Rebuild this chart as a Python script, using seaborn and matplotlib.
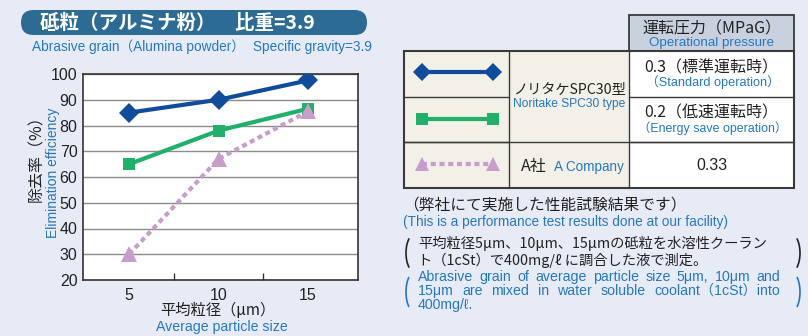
import matplotlib
matplotlib.use("Agg")
import matplotlib.pyplot as plt
import seaborn as sns
import pandas as pd
from matplotlib.patches import FancyBboxPatch, Rectangle, Arc
from matplotlib.lines import Line2D

# ---- data -------------------------------------------------------------
particle_sizes = [5, 10, 15]                 # average particle size (µm)
noritake_standard = [85, 90, 97.5]           # SPC30, 0.3 MPaG
noritake_energy_save = [65, 78, 86.5]        # SPC30, 0.2 MPaG
company_a = [30, 67, 85.5]                   # A社, 0.33 MPaG
y_ticks = [20, 30, 40, 50, 60, 70, 80, 90, 100]
x_ticks = [5, 10, 15]

# ---- styling ----------------------------------------------------------
BG = "#E7EBF6"
NAVY = "#0F4C9C"
GREEN = "#1FB06A"
LILAC = "#C89CCB"
TEXT_BLUE = "#2478C0"
BANNER = "#2C6C94"
INK = "#222222"

CJK = ["Noto Sans CJK JP", "DejaVu Sans"]
SANS = ["Liberation Sans", "Noto Sans CJK JP", "DejaVu Sans"]

sns.set_theme(style="white")
plt.rcParams["font.family"] = CJK

W, H = 808, 336
fig = plt.figure(figsize=(W / 100, H / 100), dpi=100, facecolor=BG)
renderer = fig.canvas.get_renderer()

# pixel-space overlay for the banner, table and notes
ov = fig.add_axes([0, 0, 1, 1])
ov.set_xlim(0, W)
ov.set_ylim(H, 0)
ov.axis("off")

ax = fig.add_axes([83 / W, 1 - 280 / H, 275 / W, 206 / H])
ax.set_facecolor("white")

df = pd.DataFrame({
    "size": particle_sizes * 3,
    "eff": noritake_standard + noritake_energy_save + company_a,
    "series": ["std"] * 3 + ["eco"] * 3 + ["a"] * 3,
})
series_styles = {
    "std": dict(color=NAVY, marker="D", markersize=10, linestyle="-"),
    "eco": dict(color=GREEN, marker="s", markersize=9, linestyle="-"),
    "a": dict(color=LILAC, marker="^", markersize=11, linestyle=(0, (1.2, 0.9))),
}
for key, st in series_styles.items():
    sns.lineplot(data=df[df["series"] == key], x="size", y="eff", ax=ax,
                 legend=False, errorbar=None, linewidth=3,
                 markeredgewidth=0, zorder=3, **st)

ax.set_xlim(2.42, 17.8)
ax.set_ylim(20, 100)
ax.set_yticks(y_ticks, labels=[str(v) for v in y_ticks],
              fontfamily=SANS, fontsize=11.5, color=INK)
ax.set_xticks(x_ticks, labels=[str(v) for v in x_ticks],
              fontfamily=SANS, fontsize=11.5, color=INK)
ax.set_xticks([7.5, 12.5], minor=True)
ax.tick_params(which="major", length=0)
ax.tick_params(axis="y", pad=4)
ax.tick_params(axis="x", pad=6)
ax.tick_params(axis="x", which="minor", direction="in", length=5,
               width=1, color="#333333", bottom=True)
ax.grid(axis="y", color="#8c8c8c", linewidth=1)
ax.set_axisbelow(True)
ax.set_xlabel("")
ax.set_ylabel("")
for sp in ax.spines.values():
    sp.set_color("#333333")
    sp.set_linewidth(1.2)


def caption(x, y, s, size=10, max_width=None, ha="left", va="center",
            rotation=0):
    """Blue English caption, shrunk if it would exceed max_width pixels."""
    t = ov.text(x, y, s, ha=ha, va=va, rotation=rotation, fontsize=size,
                color=TEXT_BLUE, family=SANS)
    if max_width:
        bb = t.get_window_extent(renderer)
        span = bb.height if rotation else bb.width
        if span > max_width:
            t.set_fontsize(size * max_width / span)
    return t


# axis titles
ov.text(37, 107, "除去率（%）", rotation=90, ha="center", va="top",
        fontsize=11.5, color=INK, family=CJK)
caption(53, 108, "Elimination efficiency", 10, 132, ha="center", va="top",
        rotation=90)
ov.text(218, 311, "平均粒径（μm）", ha="center", va="center",
        fontsize=11, color=INK, family=CJK)
caption(222, 327, "Average particle size", 10.2, 135, ha="center")

# title banner
ov.add_patch(FancyBboxPatch((21, 10), 346, 25,
                            boxstyle="round,pad=0,rounding_size=12.5",
                            facecolor=BANNER, edgecolor="none"))
ov.text(40, 23, "砥粒（アルミナ粉）　比重=3.9", ha="left", va="center",
        fontsize=14, color="white", family=CJK, fontweight="bold")
sub = caption(32, 47, "Abrasive grain（Alumina powder）", 9.8)
sub_end = sub.get_window_extent(renderer).x1
caption(max(238, sub_end + 8), 47, "Specific gravity=3.9", 9.8)

# ---- legend table -----------------------------------------------------
TAN = "#F2F0E7"
HEAD = "#C9D1DF"
EDGE = "#3a3a3a"
c0, c1, c2, c3 = 404, 509, 629, 794
r0, r1, r2, r3, r4 = 15, 51, 97, 142, 188

ov.add_patch(Rectangle((c2, r0), c3 - c2, r1 - r0, facecolor=HEAD,
                       edgecolor=EDGE, lw=1.3))
ov.add_patch(Rectangle((c0, r1), c2 - c0, r4 - r1, facecolor=TAN,
                       edgecolor="none"))
ov.add_patch(Rectangle((c2, r1), c3 - c2, r4 - r1, facecolor="white",
                       edgecolor="none"))
for y in (r2, r3):
    ov.plot([c0, c1], [y, y], color=EDGE, lw=1)
    ov.plot([c2, c3], [y, y], color=EDGE, lw=1)
ov.plot([c0, c3], [r3, r3], color=EDGE, lw=1)
for x in (c1, c2):
    ov.plot([x, x], [r1, r4], color=EDGE, lw=1)
ov.add_patch(Rectangle((c0, r1), c3 - c0, r4 - r1, facecolor="none",
                       edgecolor=EDGE, lw=1.5))

# legend samples
for y, st in zip((72, 119, 164), series_styles.values()):
    ov.add_line(Line2D([422, 493], [y, y], color=st["color"], lw=3,
                       linestyle=st["linestyle"], marker=st["marker"],
                       markersize=st["markersize"] * 0.95,
                       markeredgewidth=0))

mid_p = (c2 + c3) / 2
mid_n = (c1 + c2) / 2
ov.text(mid_p, 29, "運転圧力（MPaG）", ha="center", va="center",
        fontsize=11.5, color=INK, family=CJK)
caption(mid_p, 43, "Operational pressure", 10, 125, ha="center")
ov.text(mid_p, 68, "0.3（標準運転時）", ha="center", va="center",
        fontsize=11.5, color=INK, family=CJK)
caption(mid_p + 1, 82, "（Standard operation）", 10, 135, ha="center")
ov.text(mid_p, 113, "0.2（低速運転時）", ha="center", va="center",
        fontsize=11.5, color=INK, family=CJK)
caption(mid_p + 1, 128, "（Energy save operation）", 10, 150, ha="center")
ov.text(mid_p, 165, "0.33", ha="center", va="center",
        fontsize=11.5, color=INK, family=SANS)
ov.text(mid_n, 90, "ノリタケSPC30型", ha="center", va="center",
        fontsize=10.2, color=INK, family=CJK)
caption(mid_n, 104, "Noritake SPC30 type", 10, 112, ha="center")
ov.text(521, 166, "A社", ha="left", va="center",
        fontsize=11.5, color=INK, family=CJK)
caption(554, 167, "A Company", 10, 70)

# ---- notes ------------------------------------------------------------
ov.text(403, 205, "（弊社にて実施した性能試験結果です）", ha="left",
        va="center", fontsize=11.3, color=INK, family=CJK)
caption(403, 222, "(This is a performance test results done at our facility)",
        9.8, 380)
ov.text(418, 243, "平均粒径5μm、10μm、15μmの砥粒を水溶性クーラン",
        ha="left", va="center", fontsize=10.3, color=INK, family=CJK)
ov.text(418, 260, "ト（1cSt）で400mg/ℓ に調合した液で測定。",
        ha="left", va="center", fontsize=10.3, color=INK, family=CJK)

para = ["Abrasive grain of average particle size 5μm, 10μm and",
        "15μm are mixed in water soluble coolant（1cSt）into",
        "400mg/ℓ."]
blue_kw = dict(fontsize=10.2, color=TEXT_BLUE, family=SANS)


def justify(line, x0, x1, y):
    words = line.split(" ")
    texts = [ov.text(0, y, w, ha="left", va="center", **blue_kw) for w in words]
    widths = [t.get_window_extent(renderer).width for t in texts]
    gap = (x1 - x0 - sum(widths)) / max(len(words) - 1, 1)
    x = x0
    for t, w in zip(texts, widths):
        t.set_x(x)
        x += w + gap


justify(para[0], 418, 780, 277)
justify(para[1], 418, 780, 291)
ov.text(418, 305, para[2], ha="left", va="center", **blue_kw)

# enclosing brackets
for cy, hh, col in ((253, 40, INK), (292, 42, TEXT_BLUE)):
    ov.add_patch(Arc((416, cy), 20, hh, theta1=115, theta2=245,
                     color=col, lw=1.2))
    ov.add_patch(Arc((790, cy), 20, hh, theta1=-65, theta2=65,
                     color=col, lw=1.2))

fig.savefig("out.png", dpi=100, facecolor=BG)
